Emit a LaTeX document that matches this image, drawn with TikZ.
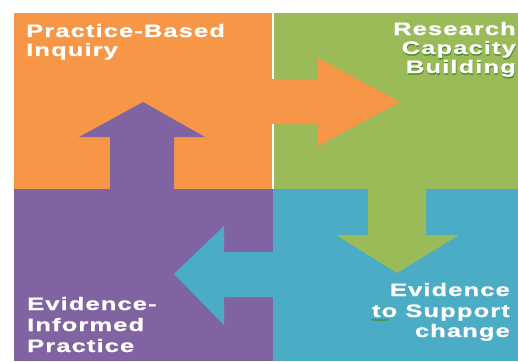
\documentclass[tikz,border=0pt]{standalone}
\usepackage{fontspec}
\usetikzlibrary{decorations.pathmorphing}
\newfontfamily\lblfont{Liberation Sans}[FakeStretch=1.42,LetterSpace=6,FakeBold=0.8]
\definecolor{qorange}{HTML}{F79646}
\definecolor{qgreen}{HTML}{9BBB59}
\definecolor{qpurple}{HTML}{8064A2}
\definecolor{qblue}{HTML}{4BACC6}
\definecolor{qshadow}{HTML}{4F8A2A}
\begin{document}
\begin{tikzpicture}[x=1pt,y=-1pt,
  lbl/.style={font=\lblfont\bfseries\fontsize{18}{20}\selectfont, text=white, inner sep=0pt},
  shd/.style={lbl, text=qshadow}]
\useasboundingbox (0,0) rectangle (518,361);
\clip (0,0) rectangle (518,361);
\fill[white] (0,0) rectangle (518,361);
% quadrants
\fill[qorange] (14,13) rectangle (272,189);
\fill[white] (272,13) rectangle (274,189);
\fill[qgreen] (274,13) rectangle (518,189);
\fill[qpurple] (14,189) rectangle (273,361);
\fill[qblue] (273,189) rectangle (518,361);
% arrows
\fill[qpurple] (110,190) -- (110,137) -- (79,137) -- (143,102) -- (205,137) -- (174,137) -- (174,190) -- cycle;
\fill[qorange] (270,79) -- (318,79) -- (318,58) -- (400,102) -- (318,146) -- (318,124) -- (270,124) -- cycle;
\fill[qgreen] (368,188) -- (368,235) -- (336,235) -- (397,273) -- (459,235) -- (426,235) -- (426,188) -- cycle;
\fill[qblue] (274,252) -- (224,252) -- (224,226) -- (174,274) -- (224,325) -- (224,297) -- (274,297) -- cycle;
% labels
\node[lbl, anchor=base west] (pb1) at (26,37) {Practice-Based};
\node[lbl, anchor=base west] (pb2) at (26,56) {Inquiry};
\node[lbl, anchor=base east] (rc1) at (516,35) {Research};
\node[shd, anchor=base east] (rc2s) at (516.5,55.5) {Capacity};
\node[lbl, anchor=base east] (rc2) at (516,54) {Capacity};
\node[shd, anchor=base east] (rc3s) at (516.5,74.5) {Building};
\node[lbl, anchor=base east] (rc3) at (516,73) {Building};
\node[lbl, anchor=base west] (ei1) at (27,310) {Evidence-};
\node[lbl, anchor=base west] (ei2) at (27,331) {Informed};
\node[lbl, anchor=base west] (ei3) at (27,352) {Practice};
\node[lbl, anchor=base east] (es1) at (510,296) {Evidence};
\node[lbl, anchor=base east] (es2) at (510,317) {to Support};
\node[lbl, anchor=base east] (es3) at (510,337) {change};
\draw[qshadow, line width=0.8pt, decorate, decoration={snake, amplitude=0.8pt, segment length=3pt}] (es2.base west) ++(0,3) -- ++(17,0);
\end{tikzpicture}
\end{document}
